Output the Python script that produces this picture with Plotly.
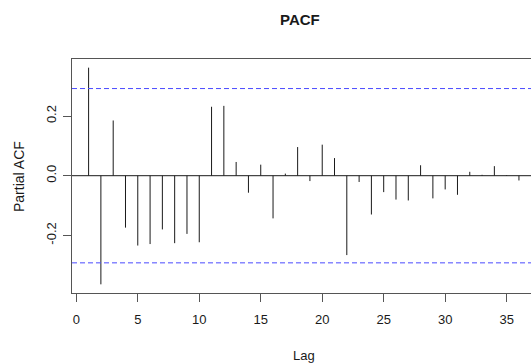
import plotly.graph_objects as go

lags = list(range(1, 37))
pacf_vals = [0.362, -0.364, 0.185, -0.174, -0.234, -0.229, -0.180, -0.226, -0.195, -0.223,
             0.231, 0.234, 0.046, -0.057, 0.037, -0.143, 0.007, 0.096, -0.018, 0.104,
             0.059, -0.266, -0.021, -0.130, -0.055, -0.080, -0.083, 0.035, -0.076, -0.046,
             -0.064, 0.013, 0.003, 0.032, 0.002, -0.016]
ci = 0.292
x_ticks = [0, 5, 10, 15, 20, 25, 30, 35]
y_ticks = [-0.2, 0.0, 0.2]
y_tick_labels = ["-0.2", "0.0", "0.2"]

xs, ys = [], []
for l, v in zip(lags, pacf_vals):
    xs += [l, l, None]
    ys += [0, v, None]

FONT = "Liberation Sans, Arial, sans-serif"
TXT = "#1a1a1a"
AX = "#555555"

fig = go.Figure()
fig.add_trace(go.Scatter(x=xs, y=ys, mode="lines",
                         line=dict(color="#1a1a1a", width=1),
                         hoverinfo="skip", showlegend=False))

# zero line and confidence bounds
fig.add_shape(type="line", xref="paper", x0=0, x1=1, yref="y", y0=0, y1=0,
              line=dict(color="#1a1a1a", width=1))
for c in (ci, -ci):
    fig.add_shape(type="line", xref="paper", x0=0, x1=1, yref="y", y0=c, y1=c,
                  line=dict(color="#4a4aff", width=1, dash="5px,3px"))

fig.update_layout(
    width=531, height=364,
    margin=dict(l=72, r=0, t=59, b=71, pad=0, autoexpand=False),
    paper_bgcolor="white", plot_bgcolor="white",
    font=dict(family=FONT, size=13, color=TXT),
    showlegend=False,
    xaxis=dict(range=[-0.35, 36.98], tickvals=x_ticks, ticks="outside", ticklen=8,
               tickcolor=AX, showgrid=False, zeroline=False, ticklabelstandoff=6,
               showline=True, linecolor=AX, linewidth=1, mirror=True,
               tickfont=dict(size=13, family=FONT, color=TXT)),
    yaxis=dict(range=[-0.393, 0.391], tickvals=y_ticks, ticktext=y_tick_labels,
               ticks="outside", ticklen=8, tickcolor=AX, tickangle=-90,
               ticklabelstandoff=2,
               showgrid=False, zeroline=False, showline=True, linecolor=AX,
               linewidth=1, mirror=False,
               tickfont=dict(size=13, family=FONT, color=TXT)),
)

pw, ph = 531 - 72, 364 - 59 - 71


def px(x, y):
    return (x - 72) / pw, ((364 - y) - 71) / ph


anns = [
    ("<b>PACF</b>", 300, 20, 15, 0),
    ("Lag", 304, 355, 13, 0),
    ("Partial ACF", 19, 177, 14, -90),
]
for text, x, y, size, ang in anns:
    ax, ay = px(x, y)
    fig.add_annotation(text=text, x=ax, y=ay, xref="paper", yref="paper",
                       xanchor="center", yanchor="middle", textangle=ang,
                       showarrow=False,
                       font=dict(size=size, family=FONT, color=TXT))

fig.write_html("out.html", config={"displayModeBar": False},
               post_script="document.body.style.margin='0px';document.body.style.overflow='hidden';")
